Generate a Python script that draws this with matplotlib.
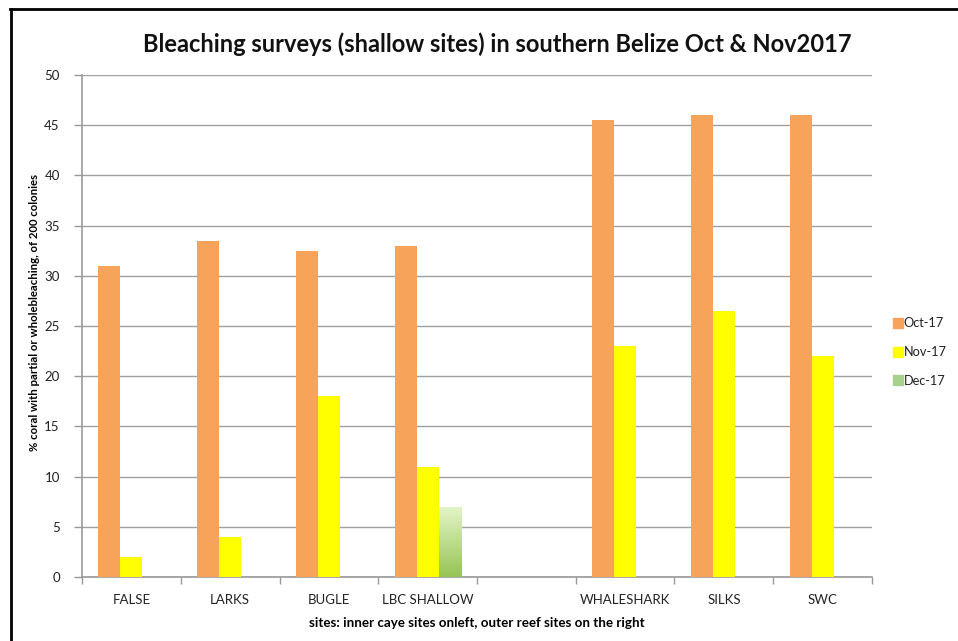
import numpy as np
import matplotlib.pyplot as plt
from matplotlib.colors import LinearSegmentedColormap
from matplotlib.lines import Line2D

# Survey results, % of 200 colonies bleached
SITES = ["FALSE", "LARKS", "BUGLE", "LBC SHALLOW", "", "WHALESHARK", "SILKS", "SWC"]
OCT_17 = [31, 33.5, 32.5, 33, np.nan, 45.5, 46, 46]
NOV_17 = [2, 4, 18, 11, np.nan, 23, 26.5, 22]
DEC_17 = [np.nan, np.nan, np.nan, 7, np.nan, np.nan, np.nan, np.nan]
Y_TICKS = [0, 5, 10, 15, 20, 25, 30, 35, 40, 45, 50]

ORANGE = "#F7A35A"
YELLOW = "#FFFF00"
GREEN = "#A9D18E"

plt.rcParams.update({
    "font.family": ["Lato", "DejaVu Sans"],
    "font.size": 9,
    "text.color": "#222222",
})

fig = plt.figure(figsize=(9.58, 6.41), dpi=100)
ax = fig.add_axes([82 / 958, 1 - 577 / 641, 790 / 958, 502 / 641])

x = np.arange(len(SITES))
w = 0.223

ax.bar(x - w, OCT_17, w, color=ORANGE, zorder=3)
ax.bar(x, NOV_17, w, color=YELLOW, zorder=3)
dec_bars = ax.bar(x + w, DEC_17, w, color="none", zorder=3)

# gradient fill for the December bar
grad = LinearSegmentedColormap.from_list("g", ["#96C455", "#E3F5C8"])
for b, v in zip(dec_bars, DEC_17):
    if np.isnan(v):
        continue
    x0, y0 = b.get_x(), b.get_y()
    im = ax.imshow(np.linspace(0, 1, 100).reshape(-1, 1), cmap=grad, origin="lower",
                   extent=[x0, x0 + b.get_width(), y0, y0 + b.get_height()],
                   aspect="auto", zorder=3)
    im.set_clip_path(b)

ax.set_xlim(-0.5, len(SITES) - 0.5)
ax.set_ylim(0, 50)
ax.set_yticks(Y_TICKS)
ax.set_xticks(x)
ax.set_xticklabels(SITES)
ax.set_xticks(np.arange(len(SITES) + 1) - 0.5, minor=True)
ax.tick_params(axis="x", which="major", length=0, pad=12, labelsize=9.5, labelcolor="#222222")
ax.tick_params(axis="x", which="minor", length=5, color="#999999", width=1)
ax.tick_params(axis="y", length=6, color="#999999", width=1, pad=10, labelsize=9.5,
               labelcolor="#222222")
ax.grid(True, axis="y", color="#a0a0a0", linewidth=1, zorder=0)
ax.set_axisbelow(True)

for side in ["top", "right"]:
    ax.spines[side].set_visible(False)
for side in ["left", "bottom"]:
    ax.spines[side].set_color("#999999")
    ax.spines[side].set_linewidth(1.2)

ax.set_ylabel("% coral with partial or wholebleaching, of 200 colonies",
              fontsize=8.2, fontweight="bold")
ax.yaxis.set_label_coords(-0.053, 0.526)
ax.set_xlabel("sites: inner caye sites onleft, outer reef sites on the right",
              fontsize=9.6, fontweight="bold", labelpad=8)

fig.text(497 / 958, 1 - 44 / 641, "Bleaching surveys (shallow sites) in southern Belize Oct & Nov2017",
         ha="center", va="center", fontsize=17, fontweight="bold", color="#111111")

# legend
handles = [Line2D([], [], marker="s", linestyle="none", markersize=7,
                  markerfacecolor=c, markeredgecolor=c) for c in (ORANGE, YELLOW, GREEN)]
fig.legend(handles, ["Oct-17", "Nov-17", "Dec-17"], loc="center left",
           bbox_to_anchor=(893 / 958, 1 - 352 / 641), frameon=False, borderpad=0,
           borderaxespad=0, handletextpad=0.05, labelspacing=1.3, fontsize=9.2,
           handlelength=0.8)

# frame lines (top and left edges of the screenshot border)
fig.add_artist(Line2D([10 / 958, 1], [1 - 9 / 641, 1 - 9 / 641], color="black",
                      linewidth=2, transform=fig.transFigure))
fig.add_artist(Line2D([11 / 958, 11 / 958], [0, 1 - 9 / 641], color="black",
                      linewidth=2, transform=fig.transFigure))

fig.savefig("out.png", dpi=100)
